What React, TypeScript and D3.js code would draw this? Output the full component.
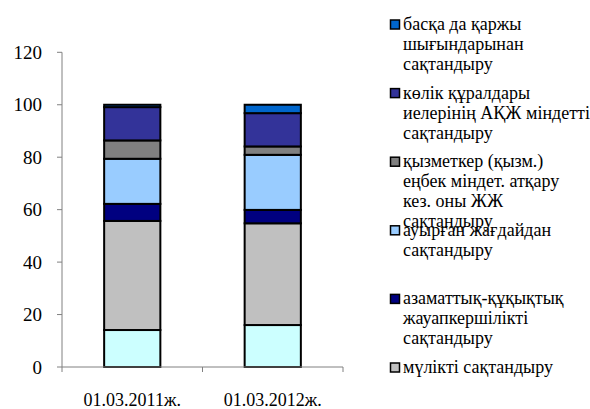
import * as d3 from "d3";

const categories = ["01.03.2011ж.", "01.03.2012ж."];

// bottom to top stacking order
const seriesNames = [
    "",
    "мүлікті сақтандыру",
    "азаматтық-құқықтық жауапкершілікті сақтандыру",
    "ауырған жағдайдан сақтандыру",
    "қызметкер (қызм.) еңбек міндет. атқару кез. оны ЖЖ сақтандыру",
    "көлік құралдары иелерінің АҚЖ міндетті сақтандыру",
    "басқа да қаржы шығындарынан сақтандыру",
];
const values2011 = [14.1, 41.6, 6.5, 17.2, 7.0, 12.7, 0.9];
const values2012 = [16.0, 38.8, 5.1, 21.0, 3.2, 12.7, 3.2];
const seriesColors = ["#CCFFFF", "#C0C0C0", "#000080", "#99CCFF", "#808080", "#333399", "#0066CC"];

// legend text as it wraps in the picture
const legendLines: string[][] = [
    [],
    ["мүлікті сақтандыру"],
    ["азаматтық-құқықтық", "жауапкершілікті", "сақтандыру"],
    ["ауырған жағдайдан", "сақтандыру"],
    ["қызметкер (қызм.)", "еңбек міндет. атқару", "кез. оны ЖЖ", "сақтандыру"],
    ["көлік құралдары", "иелерінің АҚЖ міндетті", "сақтандыру"],
    ["басқа да қаржы", "шығындарынан", "сақтандыру"],
];

const yTicks = [0, 20, 40, 60, 80, 100, 120];

const W = 590;
const H = 409;
const SERIF = "Liberation Serif";

export default function App() {
    const x = d3.scaleBand().domain(categories).range([62, 343]).paddingInner(0.6).paddingOuter(0.3);
    const y = d3.scaleLinear().domain([0, 120]).range([367, 52.3]);

    const table = categories.map((c, i) => {
        const row: any = { cat: c };
        const vals = i === 0 ? values2011 : values2012;
        seriesNames.forEach((_, k) => (row["s" + k] = vals[k]));
        return row;
    });
    const keys = seriesNames.map((_, k) => "s" + k);
    const stacked = d3.stack().keys(keys)(table);

    const legendItems = seriesNames
        .map((name, k) => ({ name, k }))
        .filter(d => d.name !== "")
        .reverse();

    const bandStep = (343 - 62) / categories.length;

    return (
        <svg width={W} height={H} style={{ position: "absolute", left: 0, top: 0 }} fontFamily={SERIF} fontSize={18}>
            <rect width={W} height={H} fill="#fff" />

            {stacked.map((layer, k) => (
                <g key={k} fill={seriesColors[k]} stroke="#000" strokeWidth={2}>
                    {layer.map((d: any, i) => (
                        <rect
                            key={i}
                            x={x(d.data.cat)!}
                            width={x.bandwidth()}
                            y={y(d[1])}
                            height={y(d[0]) - y(d[1])}
                        />
                    ))}
                </g>
            ))}

            {/* y axis */}
            <line x1={62} x2={62} y1={y(120)} y2={y(0)} stroke="#808080" />
            {yTicks.map(t => (
                <g key={t}>
                    <line x1={57} x2={62} y1={y(t)} y2={y(t)} stroke="#808080" />
                    <text x={42} y={y(t) + 6.5} textAnchor="end" fontSize={19}>
                        {t}
                    </text>
                </g>
            ))}

            {/* x axis */}
            <line x1={62} x2={343} y1={y(0)} y2={y(0)} stroke="#808080" />
            {d3.range(categories.length + 1).map(i => (
                <line key={i} x1={62 + i * bandStep} x2={62 + i * bandStep} y1={y(0)} y2={y(0) + 5} stroke="#808080" />
            ))}
            {categories.map(c => (
                <text key={c} x={x(c)! + x.bandwidth() / 2} y={406} textAnchor="middle">
                    {c}
                </text>
            ))}

            {/* legend */}
            {legendItems.map((d, i) => {
                const top = 25 + i * 68.6;
                return (
                    <g key={d.k}>
                        <rect x={390.5} y={top - 5} width={9} height={9} fill={seriesColors[d.k]} stroke="#000" strokeWidth={1.5} />
                        {legendLines[d.k].map((line, j) => (
                            <text key={j} x={403} y={top + 5 + j * 20}>
                                {line}
                            </text>
                        ))}
                    </g>
                );
            })}
        </svg>
    );
}
